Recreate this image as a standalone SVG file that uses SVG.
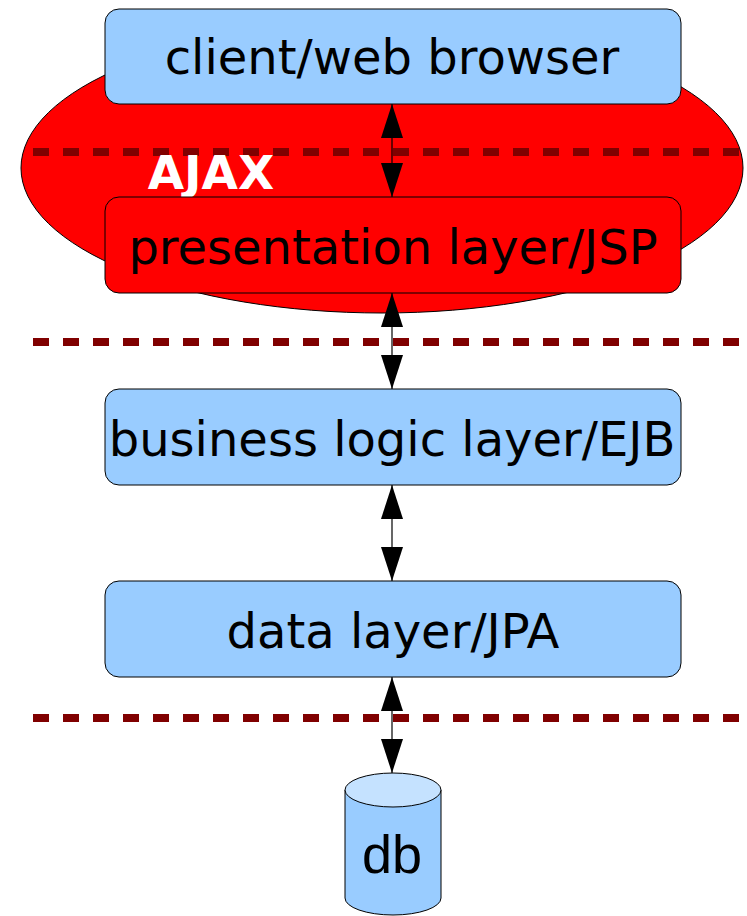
<svg xmlns="http://www.w3.org/2000/svg" width="747" height="916" viewBox="0 0 747 916">
<defs>
<style>
.box{stroke:#000;stroke-width:1}
.blue{fill:#99ccff}
.red{fill:#ff0000}
.lbl{font-family:"DejaVu Sans",sans-serif;font-size:48px;text-anchor:middle;fill:#000}
.dash{stroke:#800000;stroke-width:8;stroke-dasharray:16 14;fill:none}
.conn{stroke:#000;stroke-width:1.2;fill:none;marker-start:url(#ah);marker-end:url(#ah)}
</style>
<marker id="ah" viewBox="0 0 34 22" refX="34" refY="11" markerWidth="34" markerHeight="22" markerUnits="userSpaceOnUse" orient="auto-start-reverse">
<path d="M0,0 L34,11 L0,22 Z" fill="#000"/>
</marker>
</defs>
<rect width="747" height="916" fill="#fff"/>
<g id="ajax">
<ellipse cx="382" cy="168" rx="361" ry="145" fill="#ff0000" stroke="#000" stroke-width="1"/>
</g>
<g id="dividers">
<line class="dash" x1="33" y1="152" x2="747" y2="152"/>
<line class="dash" x1="33" y1="342" x2="747" y2="342"/>
<line class="dash" x1="33" y1="718" x2="747" y2="718"/>
</g>
<text x="211" y="189" font-family="DejaVu Sans,sans-serif" font-weight="bold" font-size="47" fill="#fff" text-anchor="middle">AJAX</text>
<g id="client">
<rect class="box blue" x="105" y="9" width="576" height="95" rx="14"/>
<text class="lbl" x="392" y="74">client/web browser</text>
</g>
<g id="presentation">
<rect class="box red" x="105" y="197" width="576" height="96" rx="14"/>
<text class="lbl" x="393" y="264">presentation layer/JSP</text>
</g>
<g id="business">
<rect class="box blue" x="105" y="389" width="576" height="96" rx="14"/>
<text class="lbl" x="392" y="456">business logic layer/EJB</text>
</g>
<g id="data">
<rect class="box blue" x="105" y="581" width="576" height="96" rx="14"/>
<text class="lbl" x="393" y="648">data layer/JPA</text>
</g>
<g id="db">
<path d="M345,790 L345,898 A48,17 0 0 0 441,898 L441,790" fill="#99ccff" stroke="#000" stroke-width="1"/>
<ellipse cx="393" cy="790" rx="48" ry="17" fill="#c5e2ff" stroke="#000" stroke-width="1"/>
<text x="392" y="873" font-family="Liberation Sans,Arial,sans-serif" font-size="54" text-anchor="middle">db</text>
</g>
<g id="connectors">
<line class="conn" x1="392" y1="104" x2="392" y2="197"/>
<line class="conn" x1="392" y1="293" x2="392" y2="389"/>
<line class="conn" x1="392" y1="485" x2="392" y2="581"/>
<line class="conn" x1="392" y1="677" x2="392" y2="773"/>
</g>
</svg>
